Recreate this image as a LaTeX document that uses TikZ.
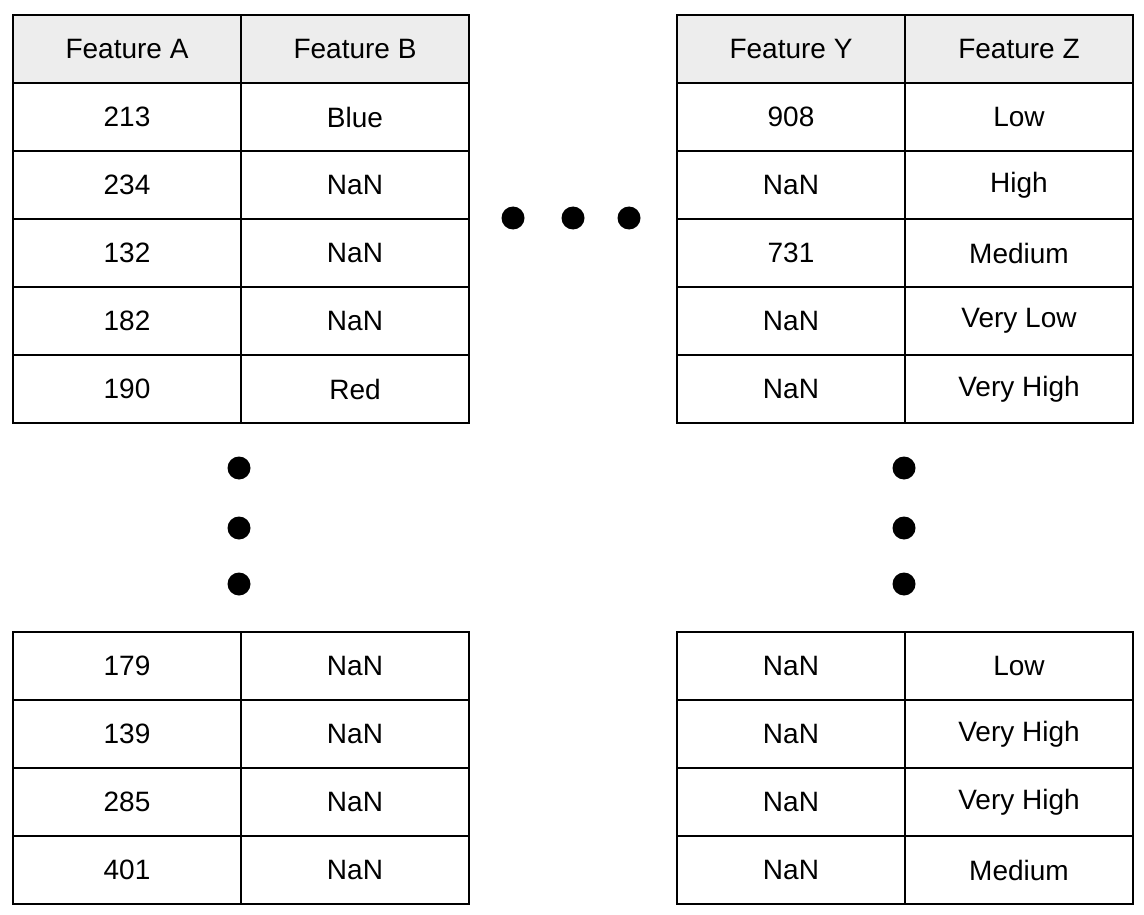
\documentclass[tikz,border=0pt]{standalone}
\usepackage{fontspec}
\setmainfont{Liberation Sans}
\begin{document}
\begin{tikzpicture}[x=1pt,y=-1pt,
  cell/.style={draw=black,line width=2pt,minimum width=228pt,minimum height=68pt,inner sep=0pt,font=\fontsize{28}{32}\selectfont,anchor=north west},
  head/.style={cell,fill=gray!14},
  dot/.style={circle,fill=black,minimum size=23pt,inner sep=0pt}]
\useasboundingbox (0,0) rectangle (1144,915);
% left top
\node[head] (a0) at (12,14) {Feature A};
\node[head] (b0) at (240,14) {Feature B};
\foreach \i/\u/\v in {1/213/Blue,2/234/NaN,3/132/NaN,4/182/NaN,5/190/Red}{
  \node[cell] (a\i) at (12,14+68*\i) {\u};
  \node[cell] (b\i) at (240,14+68*\i) {\v};}
% right top
\node[head] (y0) at (676,14) {Feature Y};
\node[head] (z0) at (904,14) {Feature Z};
\foreach \i/\u/\v in {1/908/Low,2/NaN/High,3/731/Medium,4/NaN/Very Low,5/NaN/Very High}{
  \node[cell] (y\i) at (676,14+68*\i) {\u};
  \node[cell] (z\i) at (904,14+68*\i) {\v};}
% left bottom
\foreach \i/\u/\v in {0/179/NaN,1/139/NaN,2/285/NaN,3/401/NaN}{
  \node[cell] (c\i) at (12,631+68*\i) {\u};
  \node[cell] (d\i) at (240,631+68*\i) {\v};}
% right bottom
\foreach \i/\u/\v in {0/NaN/Low,1/NaN/Very High,2/NaN/Very High,3/NaN/Medium}{
  \node[cell] (e\i) at (676,631+68*\i) {\u};
  \node[cell] (f\i) at (904,631+68*\i) {\v};}
% dots
\node[dot] (h1) at (513,218) {};
\node[dot] (h2) at (573,218) {};
\node[dot] (h3) at (629,218) {};
\node[dot] (l1) at (239,468) {};
\node[dot] (l2) at (239,528) {};
\node[dot] (l3) at (239,584) {};
\node[dot] (r1) at (904,468) {};
\node[dot] (r2) at (904,528) {};
\node[dot] (r3) at (904,584) {};
\end{tikzpicture}
\end{document}
